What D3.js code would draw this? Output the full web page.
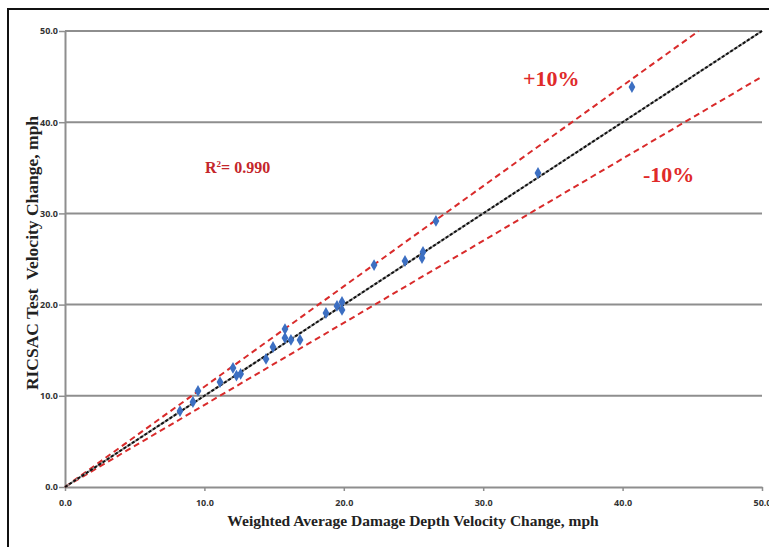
<!DOCTYPE html>
<html>
<head>
<meta charset="utf-8">
<script src="https://cdn.jsdelivr.net/npm/d3@7"></script>
<style>
  body { margin: 0; background: #fff; }
  svg { display: block; }
</style>
</head>
<body>
<div id="chart"></div>
<script>
// RICSAC test velocity change vs weighted average damage depth velocity change

var xVals = [8.25, 9.18, 9.54, 11.12, 12.05, 12.3, 12.6, 14.42, 14.92, 15.78, 15.78, 16.21, 16.86,
             18.72, 19.51, 19.87, 19.87, 22.17, 24.39, 25.61, 25.68, 26.61, 33.93, 40.67];
var yVals = [8.33, 9.32, 10.53, 11.51, 13.05, 12.2, 12.4, 14.04, 15.35, 17.32, 16.34, 16.12, 16.12,
             19.08, 19.85, 20.29, 19.41, 24.34, 24.78, 25.11, 25.77, 29.17, 34.43, 43.86];
var tickVals = [0, 10, 20, 30, 40, 50];
var bandFactors = [1.1, 0.9];

var svgWidth = 769;
var svgHeight = 547;

var margin = { top: 31, right: 7, bottom: 60, left: 65 };
var width = svgWidth - margin.left - margin.right;
var height = svgHeight - margin.top - margin.bottom;

var svg = d3.select("#chart")
  .append("svg")
  .attr("width", svgWidth)
  .attr("height", svgHeight);

// outer frame
svg.append("rect")
  .attr("x", 8).attr("y", 9)
  .attr("width", svgWidth + 10).attr("height", svgHeight + 10)
  .attr("fill", "none")
  .attr("stroke", "#111")
  .attr("stroke-width", 2);

var g = svg.append("g")
  .attr("transform", "translate(" + margin.left + "," + margin.top + ")");

var x = d3.scaleLinear().domain([0, 50]).range([0, width]);
var y = d3.scaleLinear().domain([0, 50]).range([height, 0]);

// horizontal gridlines
g.selectAll(".grid")
  .data(tickVals.slice(1))
  .enter().append("line")
  .attr("x1", 0).attr("x2", width)
  .attr("y1", function(d) { return y(d); })
  .attr("y2", function(d) { return y(d); })
  .attr("stroke", "#8e8e8e")
  .attr("stroke-width", 2);

// axes
var xAxis = g.append("g")
  .attr("transform", "translate(0," + height + ")")
  .call(d3.axisBottom(x).tickValues(tickVals).tickFormat(d3.format(".1f")).tickSize(4).tickSizeOuter(0));
var yAxis = g.append("g")
  .call(d3.axisLeft(y).tickValues(tickVals).tickFormat(d3.format(".1f")).tickSize(6).tickSizeOuter(0));

[xAxis, yAxis].forEach(function(ax) {
  ax.select(".domain").attr("stroke", "#8e8e8e").attr("stroke-width", 2);
  ax.selectAll(".tick line").attr("stroke", "#8e8e8e").attr("stroke-width", 1.5);
  ax.selectAll(".tick text")
    .attr("fill", "#333")
    .style("font-family", "'Open Sans', sans-serif")
    .style("font-weight", "bold")
    .style("font-size", "9px");
});
xAxis.selectAll(".tick text").attr("dy", "1.3em");
yAxis.selectAll(".tick text").attr("x", -7);

// +/-10% lines
var red = "#d92b2b";
bandFactors.forEach(function(f) {
  var xEnd = Math.min(50, 50 / f);
  g.append("line")
    .attr("x1", x(0)).attr("y1", y(0))
    .attr("x2", x(xEnd)).attr("y2", y(xEnd * f))
    .attr("stroke", red)
    .attr("stroke-width", 2)
    .attr("stroke-dasharray", "6,4");
});

// 1:1 line
g.append("line")
  .attr("x1", x(0)).attr("y1", y(0))
  .attr("x2", x(50)).attr("y2", y(50))
  .attr("stroke", "#999")
  .attr("stroke-width", 2);
g.append("line")
  .attr("x1", x(0)).attr("y1", y(0))
  .attr("x2", x(50)).attr("y2", y(50))
  .attr("stroke", "#111")
  .attr("stroke-width", 2)
  .attr("stroke-dasharray", "3,2");

// points
var pts = xVals.map(function(v, i) { return [v, yVals[i]]; });
g.selectAll(".pt")
  .data(pts)
  .enter().append("path")
  .attr("d", d3.symbol().type(d3.symbolDiamond).size(40))
  .attr("transform", function(d) { return "translate(" + x(d[0]) + "," + y(d[1]) + ")"; })
  .attr("fill", "#3c6fc2");

// axis titles
svg.append("text")
  .attr("x", 413).attr("y", 526)
  .attr("text-anchor", "middle")
  .style("font-family", "'Liberation Serif', serif")
  .style("font-weight", "bold")
  .style("font-size", "15.5px")
  .attr("fill", "#222")
  .text("Weighted Average Damage Depth Velocity Change, mph");

svg.append("text")
  .attr("transform", "translate(38,253) rotate(-90)")
  .attr("text-anchor", "middle")
  .style("font-family", "'Liberation Serif', serif")
  .style("font-weight", "bold")
  .style("font-size", "17.5px")
  .style("white-space", "pre")
  .attr("fill", "#222")
  .text("RICSAC Test  Velocity Change, mph");

// annotations
svg.append("text")
  .attr("x", 523).attr("y", 86)
  .style("font-family", "'Liberation Serif', serif")
  .style("font-weight", "bold")
  .style("font-size", "22px")
  .attr("fill", "#e02a2a")
  .text("+10%");

svg.append("text")
  .attr("x", 643).attr("y", 182)
  .style("font-family", "'Liberation Serif', serif")
  .style("font-weight", "bold")
  .style("font-size", "22px")
  .attr("fill", "#e02a2a")
  .text("-10%");

var r2 = svg.append("text")
  .attr("x", 205).attr("y", 173)
  .style("font-family", "'Liberation Serif', serif")
  .style("font-weight", "bold")
  .style("font-size", "16px")
  .attr("fill", "#c4262b");
r2.append("tspan").text("R");
r2.append("tspan").attr("dy", -6).style("font-size", "9px").text("2");
r2.append("tspan").attr("dy", 6).text("= 0.990");
</script>
</body>
</html>
